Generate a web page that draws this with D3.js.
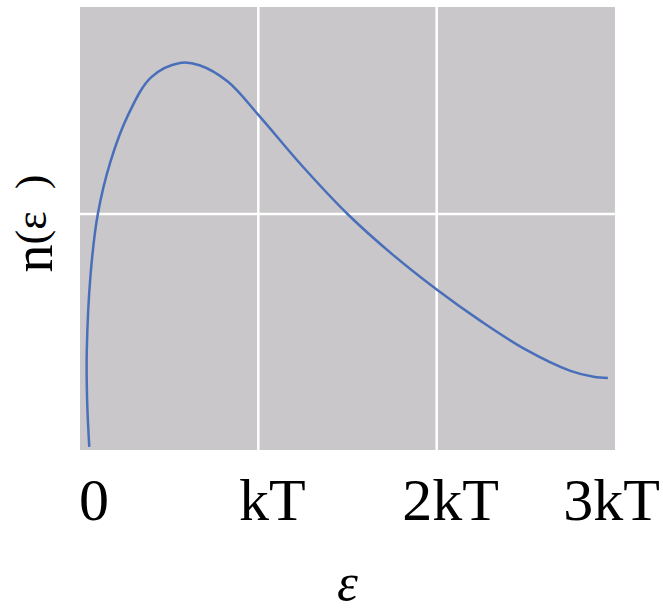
<!DOCTYPE html>
<html>
<head>
<meta charset="utf-8">
<script src="https://cdn.jsdelivr.net/npm/d3@7"></script>
<style>
  body { margin: 0; background: #fff; }
  svg { display: block; }
</style>
</head>
<body>
<div id="chart"></div>
<script>
// energy in units of kT, n(eps) in units of the middle gridline
const eps = [0.052, 0.040, 0.038, 0.060, 0.10, 0.17, 0.27, 0.40, 0.56, 0.67, 0.83, 1.0, 1.25, 1.5, 1.75, 2.0, 2.25, 2.5, 2.75, 2.88, 2.96];
const nEps = [0.013, 0.21, 0.42, 0.75, 1.0, 1.22, 1.42, 1.58, 1.64, 1.63, 1.56, 1.42, 1.20, 1.0, 0.83, 0.68, 0.545, 0.425, 0.335, 0.31, 0.305];
const xTicks = [0, 1, 2, 3];
const xTickLabels = ["0", "kT", "2kT", "3kT"];
const yTicks = [1];

const width = 663, height = 612;
const plot = {left: 80, right: 615, top: 7, bottom: 450};

const svg = d3.select("#chart")
    .append("svg")
    .attr("width", width)
    .attr("height", height);

const x = d3.scaleLinear().domain([0, 3]).range([plot.left, plot.right]);
const y = d3.scaleLinear().domain([0, 1.877]).range([plot.bottom, plot.top]);

svg.append("rect")
    .attr("x", plot.left)
    .attr("y", plot.top)
    .attr("width", plot.right - plot.left)
    .attr("height", plot.bottom - plot.top)
    .attr("fill", "#c9c7c9");

// gridlines
svg.selectAll("line.vgrid")
    .data(xTicks.filter(d => d > 0 && d < 3))
    .enter().append("line")
    .attr("class", "vgrid")
    .attr("x1", d => x(d)).attr("x2", d => x(d))
    .attr("y1", plot.top).attr("y2", plot.bottom)
    .attr("stroke", "#fff")
    .attr("stroke-width", 2.5);

svg.selectAll("line.hgrid")
    .data(yTicks)
    .enter().append("line")
    .attr("class", "hgrid")
    .attr("x1", plot.left).attr("x2", plot.right)
    .attr("y1", d => y(d)).attr("y2", d => y(d))
    .attr("stroke", "#fff")
    .attr("stroke-width", 2.5);

// the curve
const pts = eps.map((e, i) => [e, nEps[i]]);
const line = d3.line()
    .x(d => x(d[0]))
    .y(d => y(d[1]))
    .curve(d3.curveCatmullRom.alpha(0.5));

svg.append("path")
    .datum(pts)
    .attr("d", line)
    .attr("fill", "none")
    .attr("stroke", "#4a6fba")
    .attr("stroke-width", 2.5);

// tick labels
const tickText = svg.selectAll("text.tick")
    .data(xTicks)
    .enter().append("text")
    .attr("class", "tick")
    .attr("y", 520)
    .attr("text-anchor", "middle")
    .attr("font-family", "'Liberation Serif', 'Times New Roman', serif")
    .attr("font-size", 60)
    .attr("fill", "#000")
    .text((d, i) => xTickLabels[i]);

tickText.attr("x", function(d) {
    const w = this.getComputedTextLength();
    return Math.min(x(d) + 14, width - w / 2 - 3);
});

// axis titles
svg.append("text")
    .attr("x", (plot.left + plot.right) / 2)
    .attr("y", 600)
    .attr("text-anchor", "middle")
    .attr("font-family", "'Liberation Serif', 'Times New Roman', serif")
    .attr("font-style", "italic")
    .attr("font-size", 53)
    .text("ε");

const ylab = svg.append("text")
    .attr("transform", "translate(52," + ((plot.top + plot.bottom) / 2 - 5) + ") rotate(-90)")
    .attr("text-anchor", "middle")
    .attr("font-family", "'Liberation Serif', 'Times New Roman', serif")
    .attr("fill", "#000");
ylab.append("tspan").attr("font-size", 56).text("n");
ylab.append("tspan").attr("font-size", 44).attr("dy", -6).text("(ε\u2002)");
</script>
</body>
</html>
